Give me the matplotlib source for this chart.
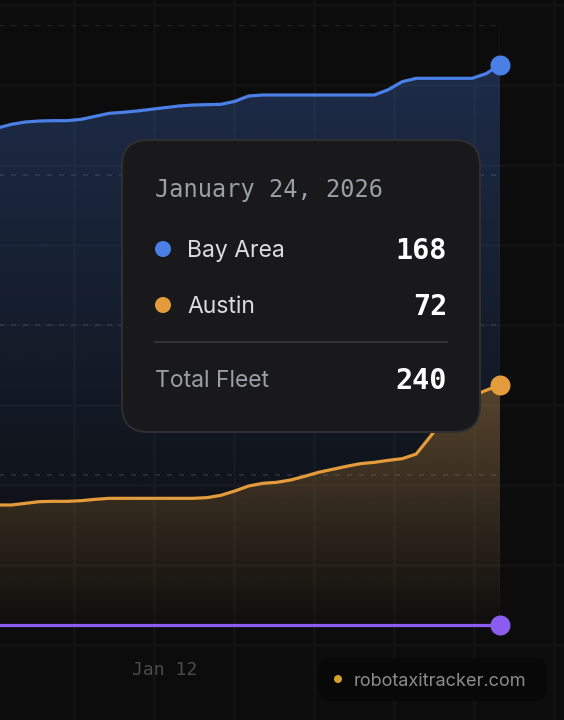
import numpy as np
import matplotlib
matplotlib.use("Agg")
import matplotlib.pyplot as plt
from matplotlib.colors import to_rgb
from matplotlib.patches import FancyBboxPatch, Circle

###############
# CHART DATA  #
###############

# day of January 2026 (half-day readings)
days = [6.0, 6.5, 7.0, 7.5, 8.0, 8.5, 9.0, 9.5, 10.0, 10.5, 11.0, 11.5, 12.0,
        12.5, 13.0, 13.5, 14.0, 14.5, 15.0, 15.5, 16.0, 16.5, 17.0, 17.5, 18.0,
        18.5, 19.0, 19.5, 20.0, 20.5, 21.0, 21.5, 22.0, 22.5, 23.0, 23.5, 24.0]

bay_area = [149.1, 150.2, 150.9, 151.2, 151.3, 151.3, 151.7, 152.6, 153.5, 153.8,
            154.2, 154.7, 155.2, 155.7, 156.0, 156.1, 156.2, 157.1, 158.7, 159.0,
            159.0, 159.0, 159.0, 159.0, 159.0, 159.0, 159.0, 159.0, 160.6, 163.0,
            164.0, 164.0, 164.0, 164.0, 164.0, 165.4, 168.0]

austin = [36.0, 36.0, 36.5, 37.0, 37.1, 37.1, 37.3, 37.7, 38.0, 38.0,
          38.0, 38.0, 38.0, 38.0, 38.0, 38.2, 38.9, 40.2, 41.7, 42.5,
          42.8, 43.5, 44.6, 45.8, 46.7, 47.6, 48.4, 48.8, 49.4, 49.9,
          51.3, 56.5, 62.1, 66.3, 68.7, 70.4, 72.0]

other = [0] * len(days)

x_ticks = [12]
x_tick_labels = ["Jan 12"]
y_grid = [0, 45, 90, 135, 180]

hover_label = "January 24, 2026"
series_names = ["Bay Area", "Austin"]
total_label = "Total Fleet"
watermark = "robotaxitracker.com"

#########
# STYLE #
#########

W, H = 564, 720
BG = "#0c0c0c"
BLUE = "#4a7fe6"
ORANGE = "#e39b3b"
PURPLE = "#8b5cf0"
SANS = ["Inter", "DejaVu Sans"]
MONO = ["DejaVu Sans Mono"]

plt.rcParams["lines.scale_dashes"] = False

PX_PER_DAY = 27.92
right_px = 500
left_px = right_px - (days[-1] - days[0]) * PX_PER_DAY
top_px, base_px = 25, 625


def px(v):
    return v / 100.0 * 72


def gradient_fill(ax, x, y, color, a_top, a_bot, zorder):
    poly = ax.fill_between(x, y, 0, facecolor="none", edgecolor="none")
    path = poly.get_paths()[0]
    ramp = np.linspace(a_bot, a_top, 256)
    img = np.zeros((256, 1, 4))
    img[..., :3] = to_rgb(color)
    img[:, 0, 3] = ramp
    im = ax.imshow(img, extent=[x[0], x[-1], 0, max(y)], origin="lower",
                   aspect="auto", zorder=zorder, interpolation="bilinear")
    im.set_clip_path(path, transform=ax.transData)


fig = plt.figure(figsize=(W / 100, H / 100), dpi=100, facecolor=BG)

# page background grid
bg = fig.add_axes([0, 0, 1, 1], zorder=0)
bg.set_xlim(0, W)
bg.set_ylim(H, 0)
bg.axis("off")
for gx in range(-6, W + 80, 80):
    bg.axvline(gx, color="#131313", lw=px(2.6))
for gy in range(5, H + 80, 80):
    bg.axhline(gy, color="#131313", lw=px(2.6))

# chart axes
ax = fig.add_axes([left_px / W, 1 - base_px / H, (right_px - left_px) / W,
                   (base_px - top_px) / H], zorder=1)
ax.set_facecolor("none")
for s in ax.spines.values():
    s.set_visible(False)

gradient_fill(ax, days, bay_area, BLUE, 0.28, 0.0, 1)
gradient_fill(ax, days, austin, ORANGE, 0.33, 0.02, 2)

ax.set_yticks(y_grid)
ax.yaxis.grid(True, color="#2c2c2f", lw=px(1.6), linestyle=(0, (px(5), px(7))))
ax.set_axisbelow(True)
ax.tick_params(axis="y", left=False, labelleft=False)

ax.axvline(days[-1], color="#3a3b40", lw=px(1.3), zorder=3)

for series, color in [(bay_area, BLUE), (austin, ORANGE), (other, PURPLE)]:
    ax.plot(days, series, color=color, lw=px(3.2), zorder=4, clip_on=False,
            solid_capstyle="round", solid_joinstyle="round")
    ax.plot(days[-1], series[-1], "o", color=color, ms=px(20), mew=0,
            zorder=5, clip_on=False)

ax.set_xticks(x_ticks, x_tick_labels)
ax.tick_params(axis="x", length=0, pad=px(36), labelsize=13, labelcolor="#4b4b4b")
for lab in ax.get_xticklabels():
    lab.set_family(MONO)

ax.set_xlim(days[0], days[-1])
ax.set_ylim(0, 180)

# overlay: tooltip and watermark in pixel coordinates
ov = fig.add_axes([0, 0, 1, 1], zorder=5)
ov.set_xlim(0, W)
ov.set_ylim(H, 0)
ov.axis("off")

ov.add_patch(FancyBboxPatch((122, 140), 358, 292,
                            boxstyle="round,pad=0,rounding_size=26",
                            fc="#19191b", ec="#2f2f32", lw=px(2)))
ov.text(155, 197, hover_label, family=MONO, size=17, color="#9b9ea6", va="baseline")

rows = [(series_names[0], bay_area[-1], BLUE, 249, 257),
        (series_names[1], austin[-1], ORANGE, 305, 313)]
for name, val, color, cy, base in rows:
    ov.add_patch(Circle((163, cy), 8, fc=color, ec="none"))
    ov.text(187, base, name, family=SANS, size=16.5, color="#dcdcde", va="baseline")
    ov.text(447, base + 2, "%d" % round(val), family=MONO, weight="bold",
            size=20.5, color="white", va="baseline", ha="right")

ov.plot([155, 447], [342, 342], color="#333337", lw=px(2))
ov.text(155, 387, total_label, family=SANS, size=16.5, color="#9b9ea6", va="baseline")
ov.text(447, 389, "%d" % round(bay_area[-1] + austin[-1]), family=MONO,
        weight="bold", size=20.5, color="white", va="baseline", ha="right")

ov.add_patch(FancyBboxPatch((318, 658), 229, 43,
                            boxstyle="round,pad=0,rounding_size=14",
                            fc="#080808", ec="none"))
ov.add_patch(Circle((338, 679), 4, fc="#d4a12a", ec="none"))
ov.text(354, 686, watermark, family=SANS, size=13.1, color="#8c8c8c", va="baseline")

fig.savefig("out.png", dpi=100, facecolor=BG)
